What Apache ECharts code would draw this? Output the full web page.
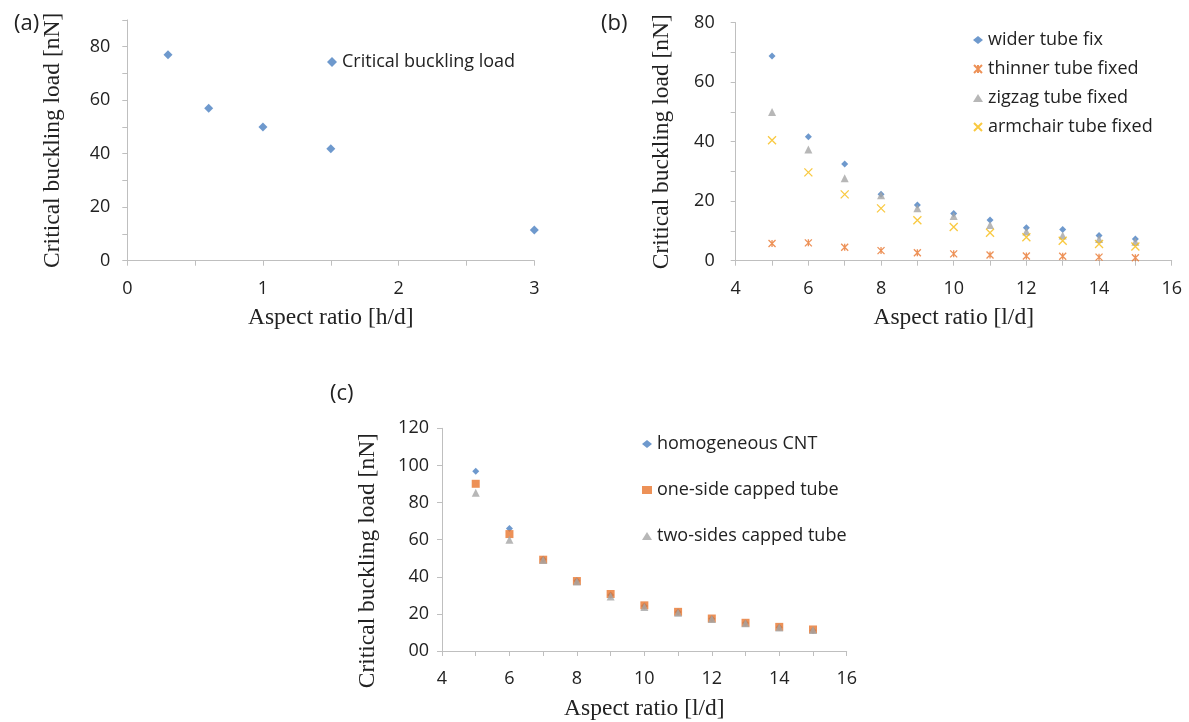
<!DOCTYPE html>
<html><head><meta charset="utf-8">
<script src="https://cdn.jsdelivr.net/npm/echarts@6/dist/echarts.min.js"></script>
<style>html,body{margin:0;padding:0;background:#fff}#c{width:1189px;height:722px}</style>
</head><body><div id="c"></div>
<script>
// ---- data ----
const aX = [0.3, 0.6, 1, 1.5, 3];
const aLoad = [77, 57, 50, 41.8, 11.5];

const bX = [5, 6, 7, 8, 9, 10, 11, 12, 13, 14, 15];
const bWider    = [68.8, 41.7, 32.5, 22.3, 18.7, 15.9, 13.7, 11.1, 10.5, 8.5, 7.3];
const bThinner  = [5.8, 6.0, 4.5, 3.4, 2.7, 2.3, 1.9, 1.6, 1.5, 1.2, 1.0];
const bZigzag   = [50, 37.4, 27.7, 22.0, 17.6, 15.0, 12.0, 9.8, 8.5, 7.3, 6.4];
const bArmchair = [40.5, 29.7, 22.3, 17.6, 13.6, 11.3, 9.4, 7.9, 6.7, 5.6, 4.8];

const cX = [5, 6, 7, 8, 9, 10, 11, 12, 13, 14, 15];
const cHomogeneous = [96.8, 66.0, 49.5, 37.8, 30.2, 24.2, 21.0, 17.4, 15.1, 12.8, 11.0];
const cOneSide     = [90.1, 63.0, 49.2, 37.7, 30.7, 24.6, 21.1, 17.5, 15.2, 13.0, 11.6];
const cTwoSides    = [85.3, 59.9, 49.0, 37.5, 29.4, 23.7, 20.6, 17.2, 15.0, 12.6, 11.3];

const panelLabels = ['(a)', '(b)', '(c)'];
const yTitle = 'Critical buckling load [nN]';
const xTitleA = 'Aspect ratio [h/d]';
const xTitleBC = 'Aspect ratio [l/d]';
const namesA = ['Critical buckling load'];
const namesB = ['wider tube fix', 'thinner tube fixed', 'zigzag tube fixed', 'armchair tube fixed'];
const namesC = ['homogeneous CNT', 'one-side capped tube', 'two-sides capped tube'];

// ---- styling ----
const SANS = 'Open Sans';
const SERIF = 'Liberation Serif';
const AX = '#bfbfbf';
const TXT = '#222';
const BLUE = '#4a7fc1', ORANGE = '#e8762d', GRAY = '#a5a5a5', YELLOW = '#f7bb10';
const ASTERISK = 'path://M0,0L10,10M10,0L0,10M5,0L5,10';
const CROSS = 'path://M0,0L10,10M10,0L0,10';

const zip = (xs, ys) => xs.map((x, i) => [x, ys[i]]);

function xAxis(grid, min, max, interval, labelEvery, name, gap) {
  return {
    type: 'value', gridIndex: grid, min, max, interval,
    axisLine: {lineStyle: {color: AX, width: 1}},
    axisTick: {show: true, length: 5, inside: false, lineStyle: {color: AX}},
    splitLine: {show: false},
    axisLabel: {margin: 19, fontFamily: SANS, fontSize: 18, color: TXT,
      formatter: v => (Math.abs(v / labelEvery - Math.round(v / labelEvery)) < 1e-6 ? String(Math.round(v)) : '')},
    name, nameLocation: 'middle', nameGap: gap,
    nameTextStyle: {fontFamily: SERIF, fontSize: 23.5, color: TXT}
  };
}
function yAxis(grid, min, max, interval, labelEvery, margin, fmt0, pad) {
  return {
    type: 'value', gridIndex: grid, min, max, interval,
    axisLine: {show: true, lineStyle: {color: AX, width: 1}},
    axisTick: {show: true, length: 5, inside: false, lineStyle: {color: AX}},
    splitLine: {show: false},
    axisLabel: {margin, fontFamily: SANS, fontSize: 18, color: TXT,
      formatter: v => (v % labelEvery === 0 ? (v === 0 && fmt0 ? fmt0 : String(v)) : '')},
    name: yTitle, nameLocation: 'middle', nameRotate: 90, nameGap: 62,
    nameTextStyle: {fontFamily: SERIF, fontSize: 23.5, color: TXT, padding: pad || 0}
  };
}
const legendText = {fontFamily: SANS, fontSize: 18, color: TXT};

const option = {
  animation: false,
  backgroundColor: '#fff',
  title: [
    {text: panelLabels[0], left: 9, top: 8, textStyle: {fontFamily: SANS, fontSize: 22, fontWeight: 'normal', color: TXT}},
    {text: panelLabels[1], left: 596, top: 8, textStyle: {fontFamily: SANS, fontSize: 22, fontWeight: 'normal', color: TXT}},
    {text: panelLabels[2], left: 325, top: 378, textStyle: {fontFamily: SANS, fontSize: 22, fontWeight: 'normal', color: TXT}}
  ],
  grid: [
    {left: 127.3, top: 19.9, width: 407, height: 240.8},
    {left: 735.7, top: 22.7, width: 436, height: 238},
    {left: 442, top: 428.3, width: 404.7, height: 224.4}
  ],
  xAxis: [
    xAxis(0, 0, 3, 0.5, 1, xTitleA, 45),
    xAxis(1, 4, 16, 1, 2, xTitleBC, 45),
    xAxis(2, 4, 16, 1, 2, xTitleBC, 46)
  ],
  yAxis: [
    yAxis(0, 0, 90, 10, 20, 17),
    yAxis(1, 0, 80, 10, 20, 21),
    yAxis(2, 0, 120, 20, 20, 13, '00', [0, 42, 0, 0])
  ],
  legend: [
    {data: namesA, orient: 'vertical', padding: 0, left: 327, top: 53, itemWidth: 10, itemHeight: 10, textStyle: legendText},
    {data: namesB, orient: 'vertical', padding: 0, left: 973, top: 31, itemWidth: 10, itemHeight: 8, itemGap: 11, textStyle: legendText},
    {data: namesC, orient: 'vertical', padding: 0, left: 642, top: 435, itemWidth: 10, itemHeight: 8, itemGap: 28, textStyle: legendText}
  ],
  series: [
    {type: 'scatter', name: namesA[0], xAxisIndex: 0, yAxisIndex: 0, symbol: 'diamond', symbolSize: 9,
      itemStyle: {color: BLUE}, data: zip(aX, aLoad)},

    {type: 'scatter', name: namesB[0], xAxisIndex: 1, yAxisIndex: 1, symbol: 'diamond', symbolSize: 7,
      itemStyle: {color: BLUE}, data: zip(bX, bWider)},
    {type: 'scatter', name: namesB[1], xAxisIndex: 1, yAxisIndex: 1, symbol: ASTERISK, symbolSize: 7,
      itemStyle: {color: 'rgba(0,0,0,0)', borderColor: ORANGE, borderWidth: 1.3}, data: zip(bX, bThinner)},
    {type: 'scatter', name: namesB[2], xAxisIndex: 1, yAxisIndex: 1, symbol: 'triangle', symbolSize: 8,
      itemStyle: {color: GRAY}, data: zip(bX, bZigzag)},
    {type: 'scatter', name: namesB[3], xAxisIndex: 1, yAxisIndex: 1, symbol: CROSS, symbolSize: 8,
      itemStyle: {color: 'rgba(0,0,0,0)', borderColor: YELLOW, borderWidth: 1.3}, data: zip(bX, bArmchair)},

    {type: 'scatter', name: namesC[0], xAxisIndex: 2, yAxisIndex: 2, symbol: 'diamond', symbolSize: 7,
      itemStyle: {color: BLUE}, data: zip(cX, cHomogeneous)},
    {type: 'scatter', name: namesC[1], xAxisIndex: 2, yAxisIndex: 2, symbol: 'rect', symbolSize: 8,
      itemStyle: {color: ORANGE}, data: zip(cX, cOneSide)},
    {type: 'scatter', name: namesC[2], xAxisIndex: 2, yAxisIndex: 2, symbol: 'triangle', symbolSize: 8,
      itemStyle: {color: GRAY}, data: zip(cX, cTwoSides)}
  ]
};
echarts.init(document.getElementById('c'), null, {renderer: 'canvas'}).setOption(option);
</script>
</body></html>
